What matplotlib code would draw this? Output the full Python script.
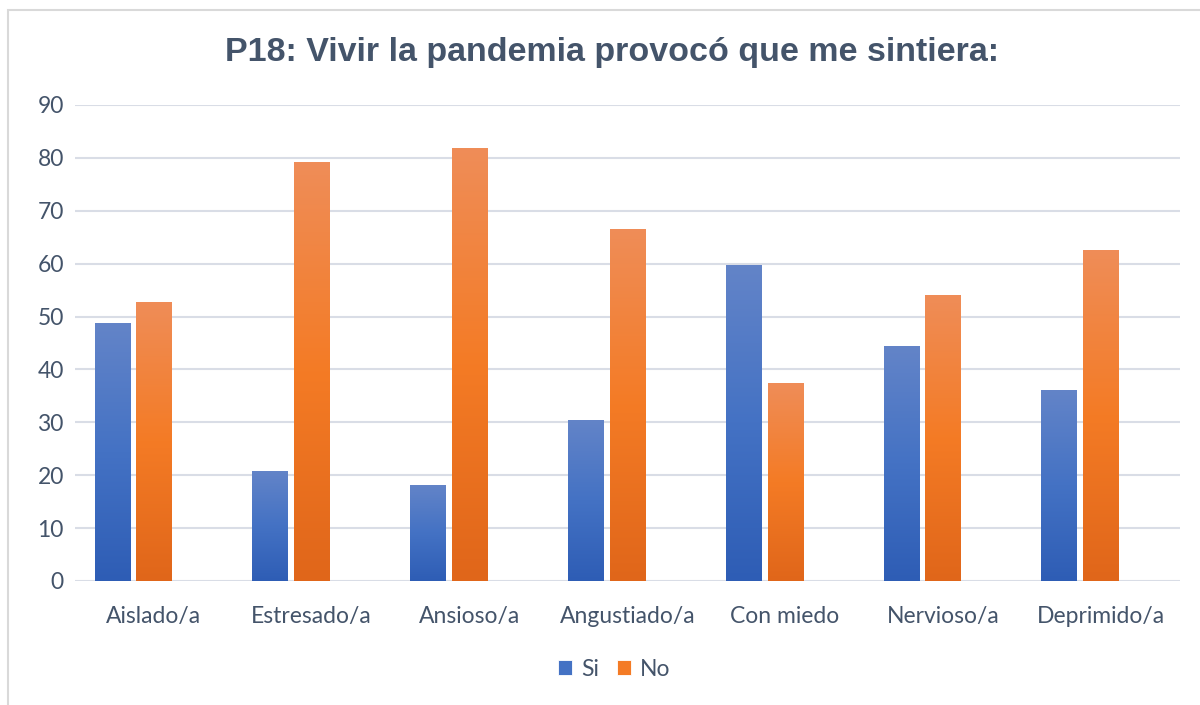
import matplotlib.pyplot as plt
from matplotlib.patches import Rectangle
from matplotlib.colors import LinearSegmentedColormap
import numpy as np

categories = ["Aislado/a", "Estresado/a", "Ansioso/a", "Angustiado/a",
              "Con miedo", "Nervioso/a", "Deprimido/a"]
si_values = [48.7, 20.8, 18.2, 30.5, 59.8, 44.4, 36.2]
no_values = [52.8, 79.2, 81.8, 66.6, 37.4, 54.1, 62.6]
y_ticks = [0, 10, 20, 30, 40, 50, 60, 70, 80, 90]

TEXT = '#44546a'
GRID = '#d9dde6'

blue_cmap = LinearSegmentedColormap.from_list('b', ['#2e5db5', '#4472c4', '#6384c8'])
orange_cmap = LinearSegmentedColormap.from_list('o', ['#e0661a', '#f47b25', '#ef8d58'])

fig = plt.figure(figsize=(12, 7.05), dpi=100)
ax = fig.add_axes([0.0625, 0.1759, 0.9205, 0.6752])

# chart frame
fig.patches.append(Rectangle((8 / 1200, -0.1), 1.2, 1 - 10 / 705 + 0.1, transform=fig.transFigure,
                             fill=False, edgecolor='#d9d9d9', linewidth=1.5))

x = np.arange(len(categories))
width = 0.222
offset = 0.265

def gradient_bars(xpos, vals, cmap, label):
    bars = ax.bar(xpos, vals, width, color=cmap(0.5), edgecolor='white', linewidth=0.6,
                  label=label, zorder=2)
    grad = np.linspace(0, 1, 256).reshape(-1, 1)
    for b in bars:
        bx = b.get_x()
        im = ax.imshow(grad, cmap=cmap, origin='lower', aspect='auto', zorder=2.5,
                       extent=[bx, bx + b.get_width(), 0, b.get_height()])
        im.set_clip_path(b)
    return bars

gradient_bars(x - offset, si_values, blue_cmap, 'Si')
gradient_bars(x, no_values, orange_cmap, 'No')

ax.set_xlim(-0.5, len(categories) - 0.5)
ax.set_ylim(0, 90)
ax.set_yticks(y_ticks)
ax.set_xticks(x)
ax.set_xticklabels(categories)
ax.tick_params(axis='x', length=0, labelsize=16.5, labelcolor=TEXT, pad=18)
ax.tick_params(axis='y', length=0, labelsize=16.5, labelcolor=TEXT, pad=8)
for lbl in ax.get_xticklabels() + ax.get_yticklabels():
    lbl.set_fontfamily('Lato')
ax.yaxis.grid(True, color=GRID, linewidth=1.5, zorder=0)
ax.set_axisbelow(True)
for s in ax.spines.values():
    s.set_visible(False)

fig.text(0.51, 0.926, "P18: Vivir la pandemia provocó que me sintiera:", ha='center', va='center',
         fontsize=24.5, fontweight='bold', color=TEXT, family='Liberation Sans')

ax.legend(loc='center', bbox_to_anchor=(0.512, 0.051), bbox_transform=fig.transFigure, ncol=2,
          frameon=False, handlelength=0.6, handleheight=0.6, handletextpad=0.4, columnspacing=0.8,
          prop={'family': 'Lato', 'size': 16.5}, labelcolor=TEXT)

fig.savefig('out.png', dpi=100)
